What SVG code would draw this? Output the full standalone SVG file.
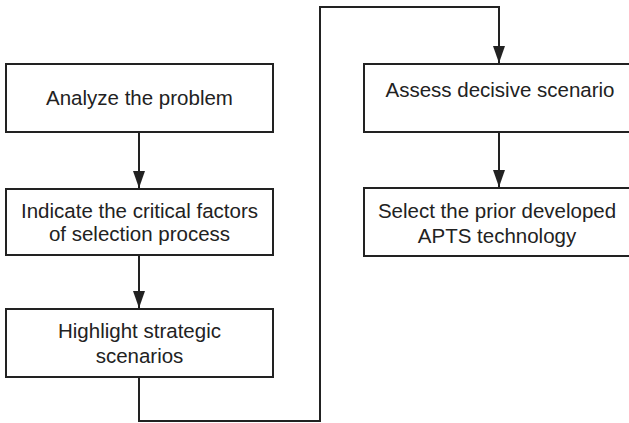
<svg xmlns="http://www.w3.org/2000/svg" width="629" height="423" viewBox="0 0 629 423">
<defs>
<style>
.box{fill:#fff;stroke:#222;stroke-width:2}
.lbl{font-family:"Liberation Sans",Arial,sans-serif;font-size:20.5px;fill:#222;text-anchor:middle}
.conn{fill:none;stroke:#222;stroke-width:2}
</style>
<marker id="ah" markerWidth="17" markerHeight="12" refX="17" refY="6" orient="auto" markerUnits="userSpaceOnUse" viewBox="0 0 17 12">
<path d="M0,0 L17,6 L0,12 Z" fill="#222"/>
</marker>
</defs>
<rect width="629" height="423" fill="#fff"/>
<g id="connectors">
<path class="conn" d="M139,132 V188" marker-end="url(#ah)"/>
<path class="conn" d="M139,255 V308" marker-end="url(#ah)"/>
<path class="conn" d="M139,377 V421 H320 V7 H499 V63" marker-end="url(#ah)"/>
<path class="conn" d="M499,132 V187" marker-end="url(#ah)"/>
</g>
<g id="analyze">
<rect class="box" x="6" y="64" width="267" height="68"/>
<text class="lbl" x="139.5" y="105">Analyze the problem</text>
</g>
<g id="indicate">
<rect class="box" x="6" y="189" width="267" height="66"/>
<text class="lbl" x="139.5" y="218">Indicate the critical factors</text>
<text class="lbl" x="139.5" y="241">of selection process</text>
</g>
<g id="highlight">
<rect class="box" x="6" y="309" width="267" height="68"/>
<text class="lbl" x="139.5" y="338">Highlight strategic</text>
<text class="lbl" x="139.5" y="363">scenarios</text>
</g>
<g id="assess">
<rect class="box" x="364" y="64" width="272" height="68"/>
<text class="lbl" x="500" y="97">Assess decisive scenario</text>
</g>
<g id="select">
<rect class="box" x="364" y="188" width="272" height="68"/>
<text class="lbl" x="497" y="218">Select the prior developed</text>
<text class="lbl" x="497" y="243">APTS technology</text>
</g>
</svg>
